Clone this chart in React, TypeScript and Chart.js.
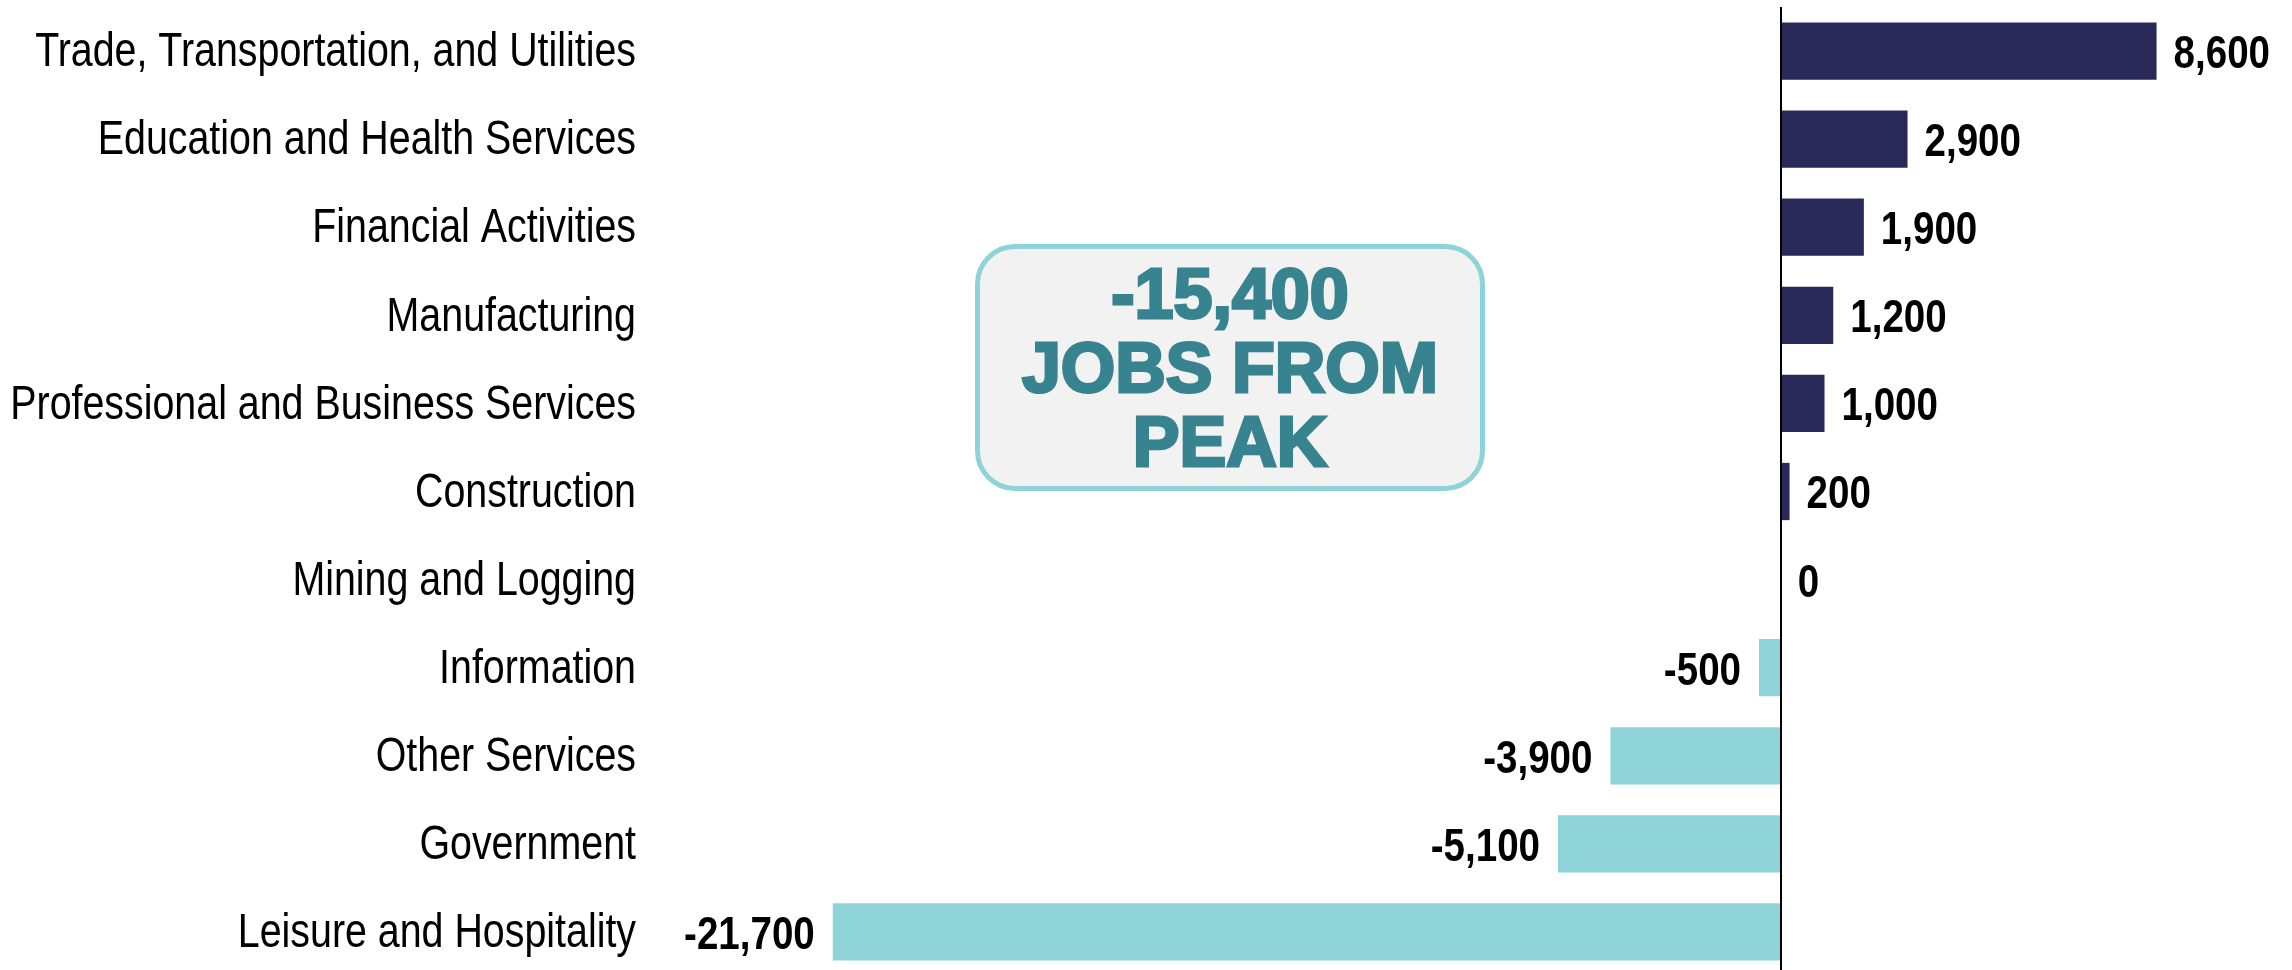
import React, { useEffect, useRef } from "react";
import { Chart, registerables } from "chart.js";

Chart.register(...registerables);

const categories = [
  "Trade, Transportation, and Utilities",
  "Education and Health Services",
  "Financial Activities",
  "Manufacturing",
  "Professional and Business Services",
  "Construction",
  "Mining and Logging",
  "Information",
  "Other Services",
  "Government",
  "Leisure and Hospitality",
];

const jobChange = [8600, 2900, 1900, 1200, 1000, 200, 0, -500, -3900, -5100, -21700];

const summaryLines = ["-15,400", "JOBS FROM", "PEAK"];

const NAVY = "#292a5a";
const TEAL = "#8dd3d8";
const FONT = '"Liberation Sans", Arial, sans-serif';
const NARROW_SCALE = 0.82;

export default function App() {
  const ref = useRef<HTMLCanvasElement>(null);

  useEffect(() => {
    const zeroLine = {
      id: "zeroLine",
      afterDatasetsDraw(chart: any) {
        const { ctx, chartArea } = chart;
        const x = Math.round(chart.scales.x.getPixelForValue(0));
        ctx.save();
        ctx.strokeStyle = "#000";
        ctx.lineWidth = 2;
        ctx.beginPath();
        ctx.moveTo(x, chartArea.top);
        ctx.lineTo(x, chart.height);
        ctx.stroke();
        ctx.restore();
      },
    };

    const categoryLabels = {
      id: "categoryLabels",
      afterDraw(chart: any) {
        const { ctx } = chart;
        const yScale = chart.scales.y;
        const right = yScale.right - 95;
        ctx.save();
        ctx.fillStyle = "#000";
        ctx.font = `48px ${FONT}`;
        ctx.textBaseline = "middle";
        ctx.textAlign = "right";
        (chart.data.labels as string[]).forEach((label, i) => {
          const y = yScale.getPixelForValue(i) + 2;
          ctx.save();
          ctx.translate(right, y);
          ctx.scale(NARROW_SCALE, 1);
          ctx.fillText(label, 0, 0);
          ctx.restore();
        });
        ctx.restore();
      },
    };

    const valueLabels = {
      id: "valueLabels",
      afterDatasetsDraw(chart: any) {
        const { ctx } = chart;
        const meta = chart.getDatasetMeta(0);
        ctx.save();
        ctx.fillStyle = "#000";
        ctx.font = `bold 47px ${FONT}`;
        ctx.textBaseline = "middle";
        meta.data.forEach((bar: any, i: number) => {
          const v = jobChange[i];
          const text = v.toLocaleString("en-US");
          ctx.save();
          if (v >= 0) {
            ctx.translate(bar.x + 17, bar.y + 4);
            ctx.textAlign = "left";
          } else {
            ctx.translate(bar.x - 18, bar.y + 4);
            ctx.textAlign = "right";
          }
          ctx.scale(NARROW_SCALE, 1);
          ctx.fillText(text, 0, 0);
          ctx.restore();
        });
        ctx.restore();
      },
    };

    const chart = new Chart(ref.current as HTMLCanvasElement, {
      type: "bar",
      data: {
        labels: categories,
        datasets: [
          {
            data: jobChange,
            backgroundColor: jobChange.map((v) => (v >= 0 ? NAVY : TEAL)),
            borderWidth: 0,
            categoryPercentage: 1,
            barPercentage: 0.65,
          },
        ],
      },
      options: {
        indexAxis: "y",
        responsive: false,
        maintainAspectRatio: false,
        animation: false,
        layout: { padding: { top: 7, right: 0, bottom: 0, left: 0 } },
        plugins: {
          legend: { display: false },
          tooltip: { enabled: false },
        },
        scales: {
          x: { display: false, min: -24030, max: 11700 },
          y: {
            grid: { display: false, drawTicks: false },
            border: { display: false },
            ticks: { display: false },
            afterFit: (s: any) => {
              s.width = 731;
              s.paddingTop = 0;
              s.paddingBottom = 0;
            },
          },
        },
      },
      plugins: [zeroLine, valueLabels, categoryLabels],
    });
    return () => chart.destroy();
  }, []);

  return (
    <div
      style={{
        position: "fixed",
        top: 0,
        left: 0,
        width: 2292,
        height: 970,
        overflow: "hidden",
        background: "#fff",
      }}
    >
      <canvas ref={ref} width={2292} height={976} style={{ display: "block" }} />
      <div
        style={{
          position: "absolute",
          left: 975,
          top: 244,
          width: 510,
          height: 247,
          boxSizing: "border-box",
          border: "5px solid #8dd3d8",
          borderRadius: 40,
          background: "#f2f2f2",
          display: "flex",
          flexDirection: "column",
          alignItems: "center",
          justifyContent: "center",
          color: "#378390",
          fontFamily: FONT,
          fontWeight: 900,
          fontSize: 70,
          lineHeight: "74px",
          WebkitTextStroke: "3px #378390",
          textAlign: "center",
        }}
      >
        {summaryLines.map((l) => (
          <div key={l}>{l}</div>
        ))}
      </div>
    </div>
  );
}
